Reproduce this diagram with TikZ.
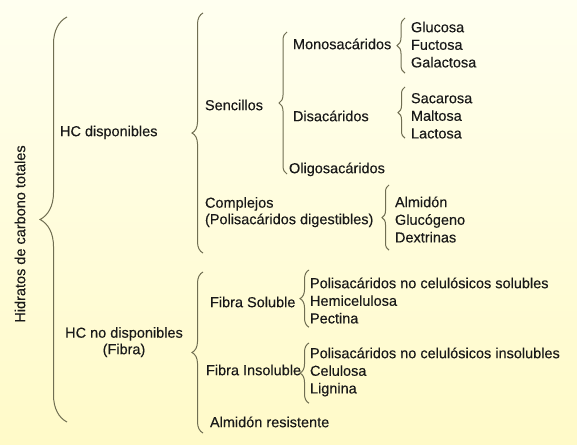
\documentclass[tikz,border=0pt]{standalone}
\usepackage{fontspec}
\setmainfont{Liberation Sans}[FakeBold=0.25]
\usepackage{tikz}
\usetikzlibrary{
    calc,
    decorations.pathreplacing,
    positioning,
}
\definecolor{BraceGray}{RGB}{112,110,82}
\definecolor{PaperTop}{RGB}{255,255,240}
\definecolor{PaperBottom}{RGB}{255,250,200}
\tikzstyle{term}=[anchor=west,inner sep=0pt,outer sep=0pt,text height=10.4pt,text depth=0pt,text=black!90,font=\fontsize{14.5}{16.5}\selectfont]
\tikzset{
    listitem/.style={term,below=7.2pt of #1.south west,anchor=north west},
    hcbrace/.style={draw=BraceGray,line width=1pt,decorate,decoration={brace,amplitude=#1}},
    hcbrace/.default=8pt,
}

\begin{document}
\begin{tikzpicture}[x=1pt,y=-1pt]
    \useasboundingbox (0,0) rectangle (577,444);
    \fill[top color=PaperTop,bottom color=PaperBottom] (0,0) rectangle (577,444);

    % Levels
    \node[term,anchor=center,rotate=90] (Hidratos) at (20,234) {Hidratos de carbono totales};
    \node[term] (HC disponibles) at (60,131) {HC disponibles};
    \node[term,anchor=center,align=center] (HC no disponibles) at (124,349) {HC no disponibles\\(Fibra)};

    \node[term] (Sencillos) at (205,105) {Sencillos};
    \node[term,align=left] (Complejos) at (205,219) {Complejos\\(Polisacáridos digestibles)};
    \node[term] (Fibra Soluble) at (210,302) {Fibra Soluble};
    \node[term] (Fibra Insoluble) at (206,370) {Fibra Insoluble};
    \node[term] (Almidon resistente) at (210,422) {Almidón resistente};

    \node[term] (Monosacaridos) at (293,44) {Monosacáridos};
    \node[term] (Disacaridos) at (293,116) {Disacáridos};
    \node[term] (Oligosacaridos) at (289,168) {Oligosacáridos};

    % Leaves
    \node[term] (Glucosa) at (411,27) {Glucosa};
    \node[listitem=Glucosa] (Fuctosa) {Fuctosa};
    \node[listitem=Fuctosa] (Galactosa) {Galactosa};

    \node[term] (Sacarosa) at (411,98) {Sacarosa};
    \node[listitem=Sacarosa] (Maltosa) {Maltosa};
    \node[listitem=Maltosa] (Lactosa) {Lactosa};

    \node[term] (Almidon) at (395,202) {Almidón};
    \node[listitem=Almidon] (Glucogeno) {Glucógeno};
    \node[listitem=Glucogeno] (Dextrinas) {Dextrinas};

    \node[term] (PNC solubles) at (310,283) {Polisacáridos no celulósicos solubles};
    \node[listitem=PNC solubles] (Hemicelulosa) {Hemicelulosa};
    \node[listitem=Hemicelulosa] (Pectina) {Pectina};

    \node[term] (PNC insolubles) at (310,353) {Polisacáridos no celulósicos insolubles};
    \node[listitem=PNC insolubles] (Celulosa) {Celulosa};
    \node[listitem=Celulosa] (Lignina) {Lignina};

    % Braces
    \draw[hcbrace=27pt] ($(HC disponibles.west)+(7,291)$) -- ($(HC disponibles.west)+(7,-114)$);
    \draw[hcbrace=11pt] ($(Sencillos.west)+(-2,148)$) -- ($(Sencillos.west)+(-2,-92)$);
    \draw[hcbrace=11pt] ($(Almidon resistente.west)+(-7,11)$) -- ($(Fibra Soluble.west)+(-7,-30)$);
    \draw[hcbrace] ($(Oligosacaridos.west)+(-2,6)$) -- ($(Monosacaridos.west)+(-6,-12)$);
    \draw[hcbrace] ($(Galactosa.west)+(-6,11)$) -- ($(Glucosa.west)+(-6,-9)$);
    \draw[hcbrace=7pt] ($(Lactosa.west)+(-6,5)$) -- ($(Sacarosa.west)+(-6,-11)$);
    \draw[hcbrace=7pt] ($(Dextrinas.west)+(-6,13)$) -- ($(Almidon.west)+(-6,-17)$);
    \draw[hcbrace=9pt] ($(Pectina.west)+(-1,9)$) -- ($(PNC solubles.west)+(-1,-13)$);
    \draw[hcbrace=9pt] ($(Lignina.west)+(-1,15)$) -- ($(PNC insolubles.west)+(-1,-10)$);
\end{tikzpicture}
\end{document}
